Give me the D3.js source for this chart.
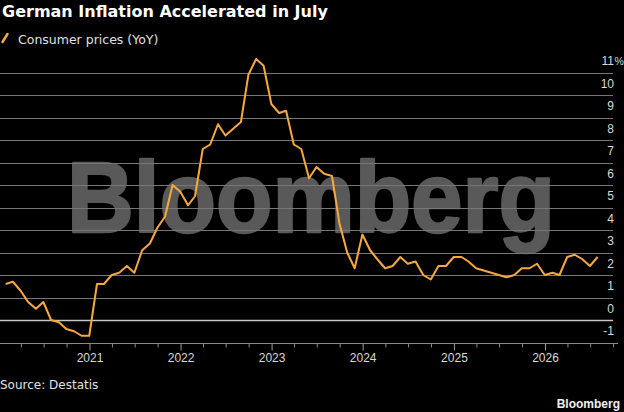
<!DOCTYPE html>
<html>
<head>
<meta charset="utf-8">
<script src="https://cdn.jsdelivr.net/npm/d3@7"></script>
<style>
  body { margin: 0; background: #000; }
  svg { display: block; font-family: "Liberation Sans", Arial, sans-serif; }
</style>
</head>
<body>
<div id="chart"></div>
<script>
// monthly German consumer prices (YoY %), Jan 2020 .. Jul 2026
var startMonth = "2020-01";
var values = [
    1.6, 1.7, 1.3, 0.8, 0.5, 0.8, 0.0, -0.1, -0.4, -0.5, -0.7, -0.7,
    1.6, 1.6, 2.0, 2.1, 2.4, 2.1, 3.1, 3.4, 4.1, 4.6, 6.0, 5.7,
    5.1, 5.5, 7.6, 7.8, 8.7, 8.2, 8.5, 8.8, 10.9, 11.6, 11.3, 9.6,
    9.2, 9.3, 7.8, 7.6, 6.3, 6.8, 6.5, 6.4, 4.3, 3.0, 2.3, 3.8,
    3.1, 2.7, 2.3, 2.4, 2.8, 2.5, 2.6, 2.0, 1.8, 2.4, 2.4, 2.8,
    2.8, 2.6, 2.3, 2.2, 2.1, 2.0, 1.9, 2.0, 2.3, 2.3, 2.5, 2.0,
    2.1, 2.0, 2.8, 2.9, 2.7, 2.4, 2.8
];
var yTicks = [-1, 0, 1, 2, 3, 4, 5, 6, 7, 8, 9, 10, 11];
var yearTicks = [2021, 2022, 2023, 2024, 2025, 2026];

var title = "German Inflation Accelerated in July";
var seriesName = "Consumer prices (YoY)";
var source = "Source: Destatis";

var width = 624, height = 412;
var orange = "#f7a83e";
var textFont = "'DejaVu Sans', Verdana, sans-serif";

var svg = d3.select("#chart").append("svg")
    .attr("width", width)
    .attr("height", height);

svg.append("rect").attr("width", width).attr("height", height).attr("fill", "#000");

// points sit at the end of each month
var parse = d3.timeParse("%Y-%m");
var first = parse(startMonth);
var data = values.map(function(v, i) {
    var d = d3.timeDay.offset(d3.timeMonth.offset(first, i + 1), -1);
    return {date: d, value: v};
});

var x = d3.scaleTime()
    .domain([new Date(2021, 0, 1), new Date(2026, 0, 1)])
    .range([89.5, 545]);

var y = d3.scaleLinear()
    .domain([-1, 11])
    .range([342.5, 72.5]);

var gridRight = 613;

// watermark
svg.append("text")
    .attr("x", 67)
    .attr("y", 232)
    .attr("textLength", 488)
    .attr("lengthAdjust", "spacingAndGlyphs")
    .style("font-size", "100px")
    .style("font-weight", "bold")
    .style("fill", "#595959")
    .style("stroke", "#595959")
    .style("stroke-width", 2.5)
    .style("stroke-linejoin", "round")
    .text("Bloomberg");

// grid lines
svg.append("g")
    .selectAll("line")
    .data(yTicks.filter(function(d) { return d > -1; }))
    .enter()
    .append("line")
    .attr("x1", 0)
    .attr("x2", gridRight)
    .attr("y1", function(d) { return Math.round(y(d)) + 0.5; })
    .attr("y2", function(d) { return Math.round(y(d)) + 0.5; })
    .style("stroke", function(d) { return d === 0 ? "#c8c8c8" : "#777777"; })
    .style("stroke-width", function(d) { return d === 0 ? 1.5 : 1; });

// y labels sit above their grid line
svg.append("g")
    .selectAll("text")
    .data(yTicks)
    .enter()
    .append("text")
    .attr("x", 614)
    .attr("y", function(d) { return y(d) - 7.5; })
    .attr("text-anchor", "end")
    .style("font-size", "12px")
    .style("fill", "#d9d9d9")
    .text(function(d) { return d; });

svg.append("text")
    .attr("x", 614.5)
    .attr("y", y(11) - 7.5)
    .style("font-size", "10.5px")
    .style("fill", "#d9d9d9")
    .text("%");

// x axis
var axisY = Math.round(y(-1)) + 0.5;
var axisDomain = [x.invert(0), x.invert(618)];

var minorTicks = d3.timeMonth.every(3).range(axisDomain[0], axisDomain[1])
    .filter(function(d) { return d.getMonth() !== 0; });

svg.append("g")
    .attr("transform", "translate(0," + axisY + ")")
    .call(d3.axisBottom(x).tickValues(minorTicks).tickSize(4).tickFormat(""))
    .call(function(g) {
        g.select(".domain").remove();
        g.selectAll("line").style("stroke", "#8a8a8a");
    });

svg.append("g")
    .attr("transform", "translate(0," + axisY + ")")
    .call(d3.axisBottom(x)
        .tickValues(yearTicks.map(function(yr) { return new Date(yr, 0, 1); }))
        .tickSize(7)
        .tickPadding(3)
        .tickFormat(d3.timeFormat("%Y")))
    .call(function(g) {
        g.select(".domain").remove();
        g.selectAll("line").style("stroke", "#9a9a9a");
        g.selectAll("text")
            .style("font-size", "12px")
            .style("font-family", "Liberation Sans, Arial, sans-serif")
            .style("fill", "#d9d9d9");
    });

svg.append("line")
    .attr("x1", 0)
    .attr("x2", 618)
    .attr("y1", axisY)
    .attr("y2", axisY)
    .style("stroke", "#8a8a8a")
    .style("stroke-width", 1);

// the series
var line = d3.line()
    .x(function(d) { return x(d.date); })
    .y(function(d) { return y(d.value); });

svg.append("path")
    .datum(data)
    .attr("d", line)
    .style("fill", "none")
    .style("stroke", orange)
    .style("stroke-width", 2)
    .style("stroke-linejoin", "round");

// title and legend
svg.append("text")
    .attr("x", 2)
    .attr("y", 17)
    .style("font-family", textFont)
    .style("font-size", "16px")
    .style("font-weight", "bold")
    .style("fill", "#ffffff")
    .text(title);

svg.append("line")
    .attr("x1", 2.5).attr("y1", 42)
    .attr("x2", 7.5).attr("y2", 34)
    .style("stroke", orange)
    .style("stroke-width", 2.5)
    .style("stroke-linecap", "round");

svg.append("text")
    .attr("x", 18)
    .attr("y", 44)
    .style("font-family", textFont)
    .style("font-size", "12.5px")
    .style("fill", "#e0e0e0")
    .text(seriesName);

// footer
svg.append("text")
    .attr("x", 0)
    .attr("y", 389)
    .style("font-family", textFont)
    .style("font-size", "12px")
    .style("fill", "#e0e0e0")
    .text(source);

svg.append("text")
    .attr("x", 620)
    .attr("y", 408)
    .attr("text-anchor", "end")
    .style("font-size", "12px")
    .style("font-weight", "bold")
    .style("fill", "#f0f0f0")
    .text("Bloomberg");
</script>
</body>
</html>
